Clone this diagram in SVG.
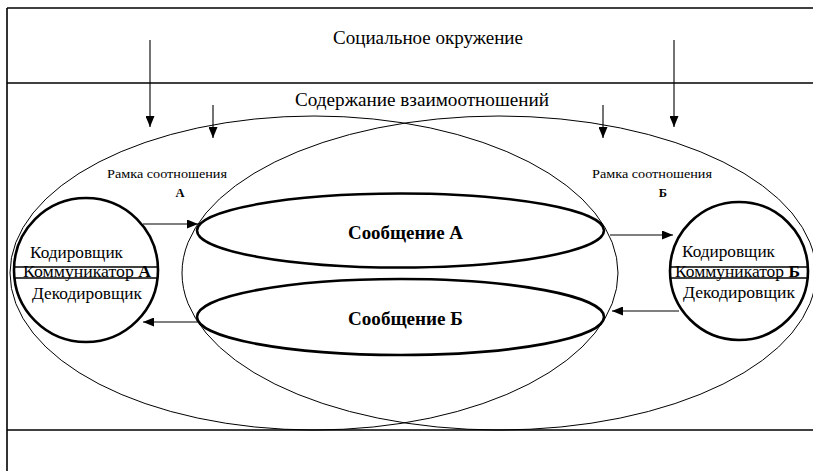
<svg xmlns="http://www.w3.org/2000/svg" width="813" height="471" viewBox="0 0 813 471">
<defs>
<marker id="ah" markerUnits="userSpaceOnUse" markerWidth="11" markerHeight="9" refX="11" refY="4.5" orient="auto">
<path d="M0,0 L11,4.5 L0,9 z" fill="#000"/>
</marker>
<style>
.t{font-family:"Liberation Serif","Times New Roman",serif;fill:#000}
.frame{stroke:#000;stroke-width:1.6;fill:none}
.thin{stroke:#000;stroke-width:1;fill:none}
.thick{stroke:#000;stroke-width:2.6;fill:none}
.band{stroke:#000;stroke-width:1.6}
.conn{stroke:#000;stroke-width:1.1;fill:none;marker-end:url(#ah)}
</style>
</defs>
<rect width="813" height="471" fill="#fff"/>
<g id="frame">
<line class="frame" x1="7" y1="8" x2="813" y2="8"/>
<line class="frame" x1="7" y1="8" x2="7" y2="471"/>
<line class="frame" x1="7" y1="83" x2="813" y2="83"/>
<line class="frame" x1="7" y1="430" x2="813" y2="430"/>
</g>
<g id="social">
<text class="t" x="428" y="44" font-size="18" text-anchor="middle" textLength="190" lengthAdjust="spacingAndGlyphs">Социальное окружение</text>
</g>
<g id="relations">
<text class="t" x="422" y="106" font-size="18" text-anchor="middle" textLength="254" lengthAdjust="spacingAndGlyphs">Содержание взаимоотношений</text>
</g>
<g id="frameA">
<ellipse class="thin" cx="314" cy="273" rx="304" ry="157"/>
<text class="t" x="167" y="178" font-size="12.5" text-anchor="middle" textLength="120" lengthAdjust="spacingAndGlyphs">Рамка соотношения</text>
<text class="t" x="180" y="197" font-size="12.5" font-weight="bold" text-anchor="middle">А</text>
</g>
<g id="frameB">
<ellipse class="thin" cx="499" cy="273" rx="317" ry="157"/>
<text class="t" x="652" y="178" font-size="12.5" text-anchor="middle" textLength="120" lengthAdjust="spacingAndGlyphs">Рамка соотношения</text>
<text class="t" x="663" y="197" font-size="12.5" font-weight="bold" text-anchor="middle">Б</text>
</g>
<g id="messageA">
<ellipse class="thick" cx="400.5" cy="230.5" rx="203.5" ry="37"/>
<text class="t" x="405.5" y="239" font-size="18" font-weight="bold" text-anchor="middle" textLength="115" lengthAdjust="spacingAndGlyphs">Сообщение А</text>
</g>
<g id="messageB">
<ellipse class="thick" cx="400.5" cy="317" rx="203.5" ry="38"/>
<text class="t" x="405.5" y="325" font-size="18" font-weight="bold" text-anchor="middle" textLength="115" lengthAdjust="spacingAndGlyphs">Сообщение Б</text>
</g>
<g id="communicatorA">
<circle class="thick" cx="86" cy="270" r="72"/>
<line class="band" x1="14" y1="267" x2="158" y2="267"/>
<line class="band" x1="15" y1="278" x2="157" y2="278"/>
<text class="t" x="30" y="258" font-size="17" textLength="93" lengthAdjust="spacingAndGlyphs">Кодировщик</text>
<text class="t" x="23" y="277" font-size="17" textLength="128" lengthAdjust="spacingAndGlyphs">Коммуникатор <tspan font-weight="bold">А</tspan></text>
<text class="t" x="32" y="299" font-size="17" textLength="110" lengthAdjust="spacingAndGlyphs">Декодировщик</text>
</g>
<g id="communicatorB">
<circle class="thick" cx="739" cy="271" r="69"/>
<line class="band" x1="670" y1="267" x2="808" y2="267"/>
<line class="band" x1="670" y1="278" x2="808" y2="278"/>
<text class="t" x="682" y="257" font-size="17" textLength="93" lengthAdjust="spacingAndGlyphs">Кодировщик</text>
<text class="t" x="675" y="277" font-size="17" textLength="125" lengthAdjust="spacingAndGlyphs">Коммуникатор <tspan font-weight="bold">Б</tspan></text>
<text class="t" x="683" y="298" font-size="17" textLength="112" lengthAdjust="spacingAndGlyphs">Декодировщик</text>
</g>
<g id="connectors">
<line class="conn" x1="150" y1="40" x2="150" y2="127"/>
<line class="conn" x1="213" y1="105" x2="213" y2="138"/>
<line class="conn" x1="603" y1="105" x2="603" y2="138"/>
<line class="conn" x1="674" y1="40" x2="674" y2="127"/>
<line class="conn" x1="143" y1="224" x2="198" y2="224"/>
<line class="conn" x1="198" y1="322" x2="143" y2="322"/>
<line class="conn" x1="610" y1="235" x2="673" y2="235"/>
<line class="conn" x1="679" y1="311" x2="612" y2="311"/>
</g>
</svg>
